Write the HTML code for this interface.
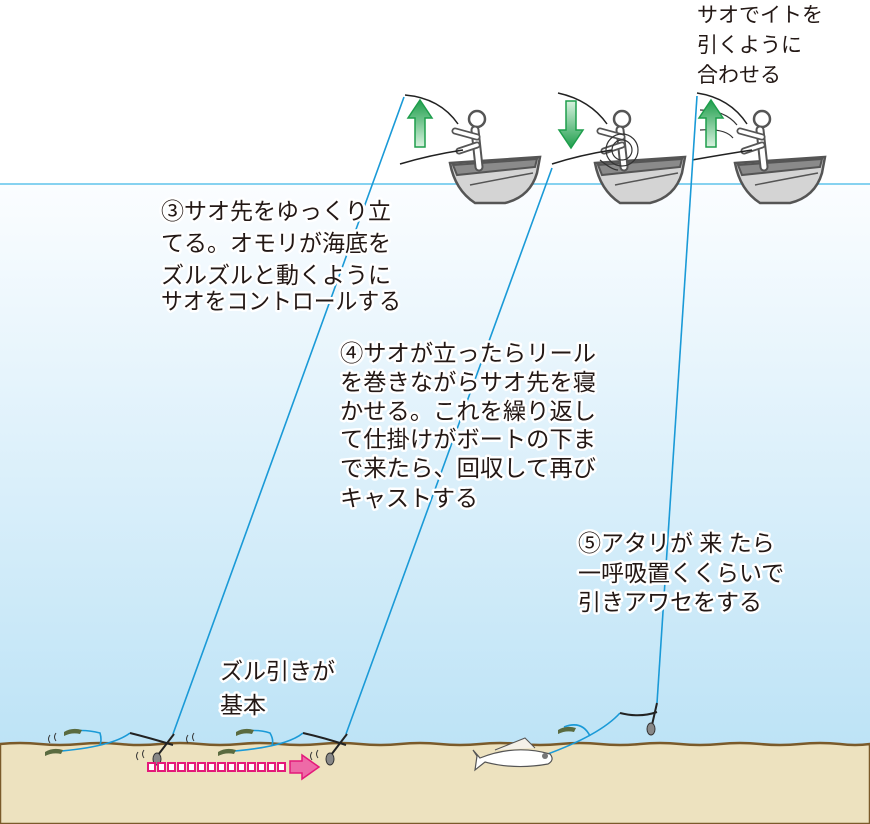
<!DOCTYPE html>
<html><head><meta charset="utf-8"><style>
html,body{margin:0;padding:0;background:#fff}
svg{display:block}
text{font-family:"Liberation Sans","Noto Sans CJK JP",sans-serif;fill:#231815}
.h{stroke:#fff;stroke-width:5;stroke-linejoin:round;paint-order:stroke}
</style></head><body>
<svg width="870" height="824" viewBox="0 0 870 824" xmlns="http://www.w3.org/2000/svg">
<defs>
<linearGradient id="sea" x1="0" y1="0" x2="0" y2="1">
<stop offset="0" stop-color="#fbfdff"/><stop offset="1" stop-color="#bde3f6"/>
</linearGradient>
<linearGradient id="ar" x1="0" y1="0" x2="0" y2="1">
<stop offset="0" stop-color="#1e9e4c"/><stop offset="1" stop-color="#d8f2df"/>
</linearGradient>
<linearGradient id="ar2" x1="0" y1="1" x2="0" y2="0">
<stop offset="0" stop-color="#1e9e4c"/><stop offset="1" stop-color="#d8f2df"/>
</linearGradient>
<g id="boat">
<path d="M-45,-12 L45,-18 L42,-2 Q35,22 10,28 L-20,28 Q-40,15 -45,-12Z" fill="#d4d4d4" stroke="#555" stroke-width="2.5"/>
<path d="M-42,-10 L42,-16 L40,-8 L-38,0Z" fill="#8a8a8a" stroke="#555" stroke-width="2"/>
<path d="M-25,10 Q0,5 38,-2" fill="none" stroke="#555" stroke-width="1.5"/>
</g>
<g id="man">
<circle cx="0" cy="-56" r="8" fill="#fff" stroke="#555" stroke-width="2.5"/>
<path d="M-2,-45 L2,-8" stroke="#555" stroke-width="9" stroke-linecap="round"/>
<path d="M-2,-45 L2,-8" stroke="#fff" stroke-width="5" stroke-linecap="round"/>
<path d="M0,-38 L-22,-44 M0,-30 L-18,-24" stroke="#555" stroke-width="7" stroke-linecap="round"/>
<path d="M0,-38 L-22,-44 M0,-30 L-18,-24" stroke="#fff" stroke-width="3.5" stroke-linecap="round"/>
</g>
</defs>
<rect x="0" y="0" width="870" height="184" fill="#fff"/>
<rect x="0" y="184" width="870" height="562" fill="url(#sea)"/>
<line x1="0" y1="184" x2="870" y2="184" stroke="#5fc3ec" stroke-width="1.5"/>
<path d="M0,744 Q20,742 40,744 Q60,746 80,744 Q100,742 120,744 Q140,746 160,744 Q180,742 200,744 Q220,746 240,744 Q260,742 280,744 Q300,746 320,744 Q340,742 360,744 Q380,746 400,744 Q420,742 440,744 Q460,746 480,744 Q500,742 520,744 Q540,746 560,744 Q580,742 600,744 Q620,746 640,744 Q660,742 680,744 Q700,746 720,744 Q740,742 760,744 Q780,746 800,744 Q820,742 840,744 Q855,746 870,744 L870,824 L0,824Z" fill="#ede2bf" stroke="#7a5a2a" stroke-width="2.5"/>

<g transform="translate(495,175)"><use href="#boat"/><use href="#man" transform="translate(-18,0)"/></g>
<g transform="translate(640,175)"><use href="#boat"/><use href="#man" transform="translate(-18,0)"/></g>
<g transform="translate(780,175)"><use href="#boat"/><use href="#man" transform="translate(-18,0)"/></g>
<path d="M405,95 Q440,98 458,124" fill="none" stroke="#222" stroke-width="1.5"/>
<path d="M400,164 Q430,155 463,150" fill="none" stroke="#222" stroke-width="1.5"/>
<path d="M558,93 Q590,100 607,124" fill="none" stroke="#222" stroke-width="1.5"/>
<path d="M552,164 Q580,155 612,150" fill="none" stroke="#222" stroke-width="1.5"/>
<path d="M697,93 Q730,98 747,124" fill="none" stroke="#222" stroke-width="1.5"/>
<path d="M692,160 Q720,155 752,150" fill="none" stroke="#222" stroke-width="1.5"/>
<g fill="none" stroke="#333" stroke-width="1.2">
<circle cx="622" cy="150" r="10"/><circle cx="622" cy="150" r="16"/><path d="M600,160 Q612,170 618,170"/>
<path d="M700,110 Q725,110 737,125 M700,130 Q725,128 733,138"/>
</g>
<path d="M420,100 L432,118 L425,118 L425,147 L415,147 L415,118 L408,118Z" fill="url(#ar)" stroke="#1e9e4c" stroke-width="1.5"/>
<path d="M566,101 L576,101 L576,130 L583,130 L571,148 L559,130 L566,130Z" fill="url(#ar2)" stroke="#1e9e4c" stroke-width="1.5"/>
<path d="M711,100 L723,118 L716,118 L716,147 L706,147 L706,118 L699,118Z" fill="url(#ar)" stroke="#1e9e4c" stroke-width="1.5"/>

<g stroke="#1a9ad7" stroke-width="1.6" fill="none">
<line x1="404" y1="97" x2="173" y2="734"/>
<line x1="552" y1="168" x2="346" y2="734"/>
<line x1="697" y1="96" x2="657" y2="703"/>
<path d="M66,733 Q80,728 100,733 Q102,740 100,745"/>
<path d="M48,752 Q110,748 130,733"/>
<path d="M238,733 Q255,728 270,733 Q274,740 272,745"/>
<path d="M222,752 Q285,748 303,733"/>
<path d="M564,727 Q582,720 590,736"/>
<path d="M545,755 Q600,735 620,713"/>
</g>
<g stroke="#222" stroke-width="2" fill="none">
<path d="M130,733 Q150,738 173,745"/><path d="M174,734 L158,755"/>
<path d="M303,733 Q325,738 346,745"/><path d="M347,734 L331,755"/>
<path d="M620,713 Q640,718 657,712"/><path d="M657,703 L652,725"/>
</g>
<g fill="#888" stroke="#333" stroke-width="1">
<ellipse cx="157" cy="759" rx="4" ry="6"/><ellipse cx="330" cy="759" rx="4" ry="6"/><ellipse cx="651" cy="729" rx="4" ry="6"/>
</g>
<g fill="#5a6b40">
<path d="M45,752 q8,-5 18,-2 l-2,4 q-8,-2 -16,2Z"/><path d="M64,732 q8,-5 18,-2 l-2,4 q-8,-2 -16,2Z"/>
<path d="M218,752 q8,-5 18,-2 l-2,4 q-8,-2 -16,2Z"/><path d="M236,732 q8,-5 18,-2 l-2,4 q-8,-2 -16,2Z"/>
<path d="M558,730 q8,-5 18,-2 l-2,4 q-8,-2 -16,2Z"/>
</g>
<g stroke="#333" stroke-width="1" fill="none">
<path d="M50,735 q-3,4 0,8 M56,733 q-3,4 0,8"/><path d="M138,752 q-3,4 0,8 M144,750 q-3,4 0,8"/>
<path d="M188,735 q-3,4 0,8 M194,733 q-3,4 0,8"/><path d="M312,752 q-3,4 0,8 M318,750 q-3,4 0,8"/>
</g>
<g transform="translate(515,758)">
<path d="M-35,0 Q0,-14 35,-4 Q40,2 33,6 Q0,12 -30,4 L-40,12 L-38,-2 L-42,-8Z" fill="#fff" stroke="#555" stroke-width="1.2"/>
<path d="M-20,-8 L10,-20 L20,-10" fill="#f4f0e8" stroke="#555"/>
<circle cx="30" cy="-2" r="3" fill="#777"/>
</g>
<g fill="#fff" stroke="#e4197a" stroke-width="2">
<rect x="148" y="763" width="7" height="8"/><rect x="158" y="763" width="7" height="8"/><rect x="168" y="763" width="7" height="8"/><rect x="178" y="763" width="7" height="8"/><rect x="188" y="763" width="7" height="8"/><rect x="198" y="763" width="7" height="8"/><rect x="208" y="763" width="7" height="8"/><rect x="218" y="763" width="7" height="8"/><rect x="228" y="763" width="7" height="8"/><rect x="238" y="763" width="7" height="8"/><rect x="248" y="763" width="7" height="8"/><rect x="258" y="763" width="7" height="8"/><rect x="268" y="763" width="7" height="8"/><rect x="278" y="763" width="7" height="8"/>
</g>
<path d="M290,761 L302,761 L302,755 L319,767 L302,779 L302,773 L290,773Z" fill="#ee6aa7" stroke="#e4197a" stroke-width="1.5"/>

<g font-size="21">
<text x="697" y="22" class="h">サオでイトを</text>
<text x="697" y="52" class="h">引くように</text>
<text x="697" y="82" class="h">合わせる</text>
</g>
<g font-size="23">
<text x="161" y="219" class="h">③サオ先をゆっくり立</text>
<text x="161" y="251" class="h">てる。オモリが海底を</text>
<text x="161" y="283" class="h">ズルズルと動くように</text>
<text x="161" y="309" class="h" textLength="240" lengthAdjust="spacingAndGlyphs">サオをコントロールする</text>
<text x="340" y="361" class="h" textLength="256" lengthAdjust="spacingAndGlyphs">④サオが立ったらリール</text>
<text x="340" y="390" class="h" textLength="256" lengthAdjust="spacingAndGlyphs">を巻きながらサオ先を寝</text>
<text x="340" y="419" class="h" textLength="256" lengthAdjust="spacingAndGlyphs">かせる。これを繰り返し</text>
<text x="340" y="447" class="h" textLength="256" lengthAdjust="spacingAndGlyphs">て仕掛けがボートの下ま</text>
<text x="340" y="476" class="h" textLength="256" lengthAdjust="spacingAndGlyphs">で来たら、回収して再び</text>
<text x="340" y="506" class="h">キャストする</text>
<text x="578" y="551" class="h">⑤アタリが 来 たら</text>
<text x="578" y="581" class="h">一呼吸置くくらいで</text>
<text x="578" y="610" class="h">引きアワセをする</text>
<text x="220" y="679" class="h">ズル引きが</text>
<text x="220" y="713" class="h">基本</text>
</g>
</svg>
</body></html>
